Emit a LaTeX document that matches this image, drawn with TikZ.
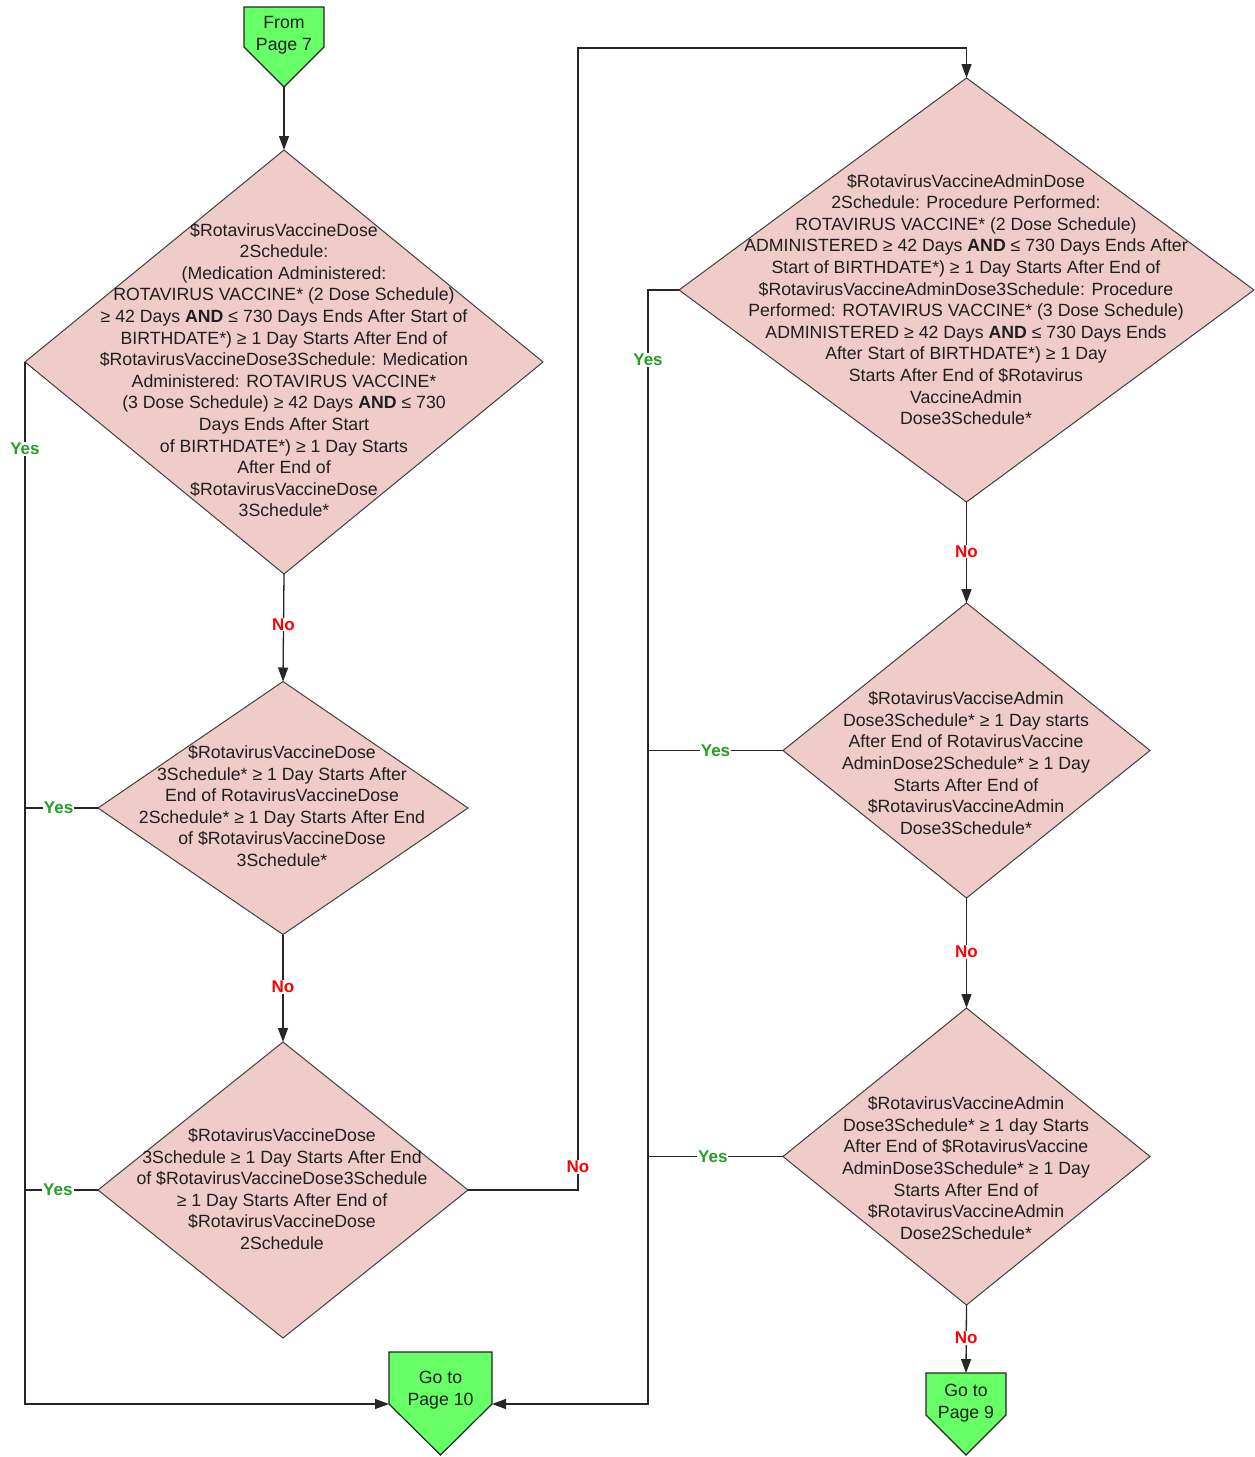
\documentclass[tikz,border=0pt]{standalone}
\usepackage{fontspec}
\setmainfont{Liberation Sans}
\usetikzlibrary{shapes.geometric,arrows.meta}
\definecolor{pinkfill}{RGB}{239,204,200}
\definecolor{greenfill}{RGB}{102,255,102}
\definecolor{yesgreen}{RGB}{34,160,34}
\definecolor{nored}{RGB}{255,0,0}
\definecolor{edgegray}{RGB}{64,64,64}
\tikzset{
  dia/.style={diamond, draw=edgegray, line width=1pt, fill=pinkfill, inner sep=0pt, outer sep=0pt},
  txt/.style={align=center, inner sep=0pt, text=black!88, font=\fontsize{17.7}{21.6}\selectfont},
  offpage/.style={draw=black!85, line width=1.2pt, fill=greenfill, line join=miter},
  conn/.style={line width=1.3pt, draw=black!85},
  arr/.style={conn, -{Triangle[length=14pt,width=10pt]}},
  yeslab/.style={fill=white, inner sep=1pt, text=yesgreen, font=\fontsize{17}{20}\selectfont\bfseries},
  nolab/.style={fill=white, inner sep=1pt, text=nored, font=\fontsize{17}{20}\selectfont\bfseries},
}
\begin{document}
\begin{tikzpicture}[x=1pt,y=-1pt]
\useasboundingbox (0,0) rectangle (1254,1457);

% off-page connectors
\draw[offpage] (244,7) -- (324,7) -- (324,47) -- (284,87) -- (244,47) -- cycle;
\node[txt] (start) at (284,35) {From\\Page 7};
\coordinate (startTip) at (284,87);

\draw[offpage] (389,1352) -- (492,1352) -- (492,1404) -- (440.5,1455) -- (389,1404) -- cycle;
\node[txt] (pg10) at (440.5,1390) {Go to\\Page 10};
\coordinate (pg10L) at (389,1404);
\coordinate (pg10R) at (492,1404);

\draw[offpage] (926,1373) -- (1006,1373) -- (1006,1415) -- (966,1455) -- (926,1415) -- cycle;
\node[txt] (pg9) at (966,1403) {Go to\\Page 9};
\coordinate (pg9Top) at (966,1373);

% decisions
\node[dia, minimum width=518pt, minimum height=424pt] (d1) at (284,362) {};
\node[txt] (t1) at (284,370) {\$RotavirusVaccineDose\\2Schedule:\\(Medication Administered:\\ROTAVIRUS VACCINE* (2 Dose Schedule)\\≥ 42 Days \textbf{AND} ≤ 730 Days Ends After Start of\\BIRTHDATE*) ≥ 1 Day Starts After End of\\\$RotavirusVaccineDose3Schedule: Medication\\Administered: ROTAVIRUS VACCINE*\\(3 Dose Schedule) ≥ 42 Days \textbf{AND} ≤ 730\\Days Ends After Start\\of BIRTHDATE*) ≥ 1 Day Starts\\After End of\\\$RotavirusVaccineDose\\3Schedule*};

\node[dia, minimum width=370pt, minimum height=253pt] (d2) at (283,808) {};
\node[txt] (t2) at (282,806) {\$RotavirusVaccineDose\\3Schedule* ≥ 1 Day Starts After\\End of RotavirusVaccineDose\\2Schedule* ≥ 1 Day Starts After End\\of \$RotavirusVaccineDose\\3Schedule*};

\node[dia, minimum width=370pt, minimum height=296pt] (d3) at (283,1190) {};
\node[txt] (t3) at (282,1189) {\$RotavirusVaccineDose\\3Schedule ≥ 1 Day Starts After End\\of \$RotavirusVaccineDose3Schedule\\≥ 1 Day Starts After End of\\\$RotavirusVaccineDose\\2Schedule};

\node[dia, minimum width=575pt, minimum height=424pt] (d4) at (966.5,290) {};
\node[txt] (t4) at (966,299.5) {\$RotavirusVaccineAdminDose\\2Schedule: Procedure Performed:\\ROTAVIRUS VACCINE* (2 Dose Schedule)\\ADMINISTERED ≥ 42 Days \textbf{AND} ≤ 730 Days Ends After\\Start of BIRTHDATE*) ≥ 1 Day Starts After End of\\\$RotavirusVaccineAdminDose3Schedule: Procedure\\Performed: ROTAVIRUS VACCINE* (3 Dose Schedule)\\ADMINISTERED ≥ 42 Days \textbf{AND} ≤ 730 Days Ends\\After Start of BIRTHDATE*) ≥ 1 Day\\Starts After End of \$Rotavirus\\VaccineAdmin\\Dose3Schedule*};

\node[dia, minimum width=367pt, minimum height=295pt] (d5) at (966.5,750.5) {};
\node[txt] (t5) at (966,763) {\$RotavirusVacciseAdmin\\Dose3Schedule* ≥ 1 Day starts\\After End of RotavirusVaccine\\AdminDose2Schedule* ≥ 1 Day\\Starts After End of\\\$RotavirusVaccineAdmin\\Dose3Schedule*};

\node[dia, minimum width=367pt, minimum height=297pt] (d6) at (966.5,1156.5) {};
\node[txt] (t6) at (966,1168) {\$RotavirusVaccineAdmin\\Dose3Schedule* ≥ 1 day Starts\\After End of \$RotavirusVaccine\\AdminDose3Schedule* ≥ 1 Day\\Starts After End of\\\$RotavirusVaccineAdmin\\Dose2Schedule*};

% junction coordinates
\coordinate (jA) at (578,48);
\coordinate (jB) at (648,290);

% connectors
\draw[arr] (startTip) -- (d1.north);
\draw[arr] (d1.south) -- node[nolab, pos=0.47] {No} (d2.north);
\draw[arr] (d2.south) -- node[nolab, pos=0.49] {No} (d3.north);
\draw[arr] (d1.west) -- node[yeslab, pos=0.0835] {Yes} (d1.west |- pg10L) -- (pg10L);
\draw[conn] (d2.west) -- node[yeslab, pos=0.54] {Yes} (d2.west -| d1.west);
\draw[conn] (d3.west) -- node[yeslab, pos=0.55] {Yes} (d3.west -| d1.west);
\draw[arr] (d3.east) -- (d3.east -| jA) -- node[nolab, pos=0.02] {No} (jA) -- (jA -| d4.north) -- (d4.north);
\draw[arr] (d4.west) -- (jB) -- node[yeslab, pos=0.063] {Yes} (jB |- pg10R) -- (pg10R);
\draw[arr] (d4.south) -- node[nolab, pos=0.49] {No} (d5.north);
\draw[conn] (d5.west) -- node[yeslab, pos=0.5] {Yes} (d5.west -| jB);
\draw[arr] (d5.south) -- node[nolab, pos=0.49] {No} (d6.north);
\draw[conn] (d6.west) -- node[yeslab, pos=0.52] {Yes} (d6.west -| jB);
\draw[arr] (d6.south) -- node[nolab, pos=0.48] {No} (pg9Top);
\end{tikzpicture}
\end{document}
